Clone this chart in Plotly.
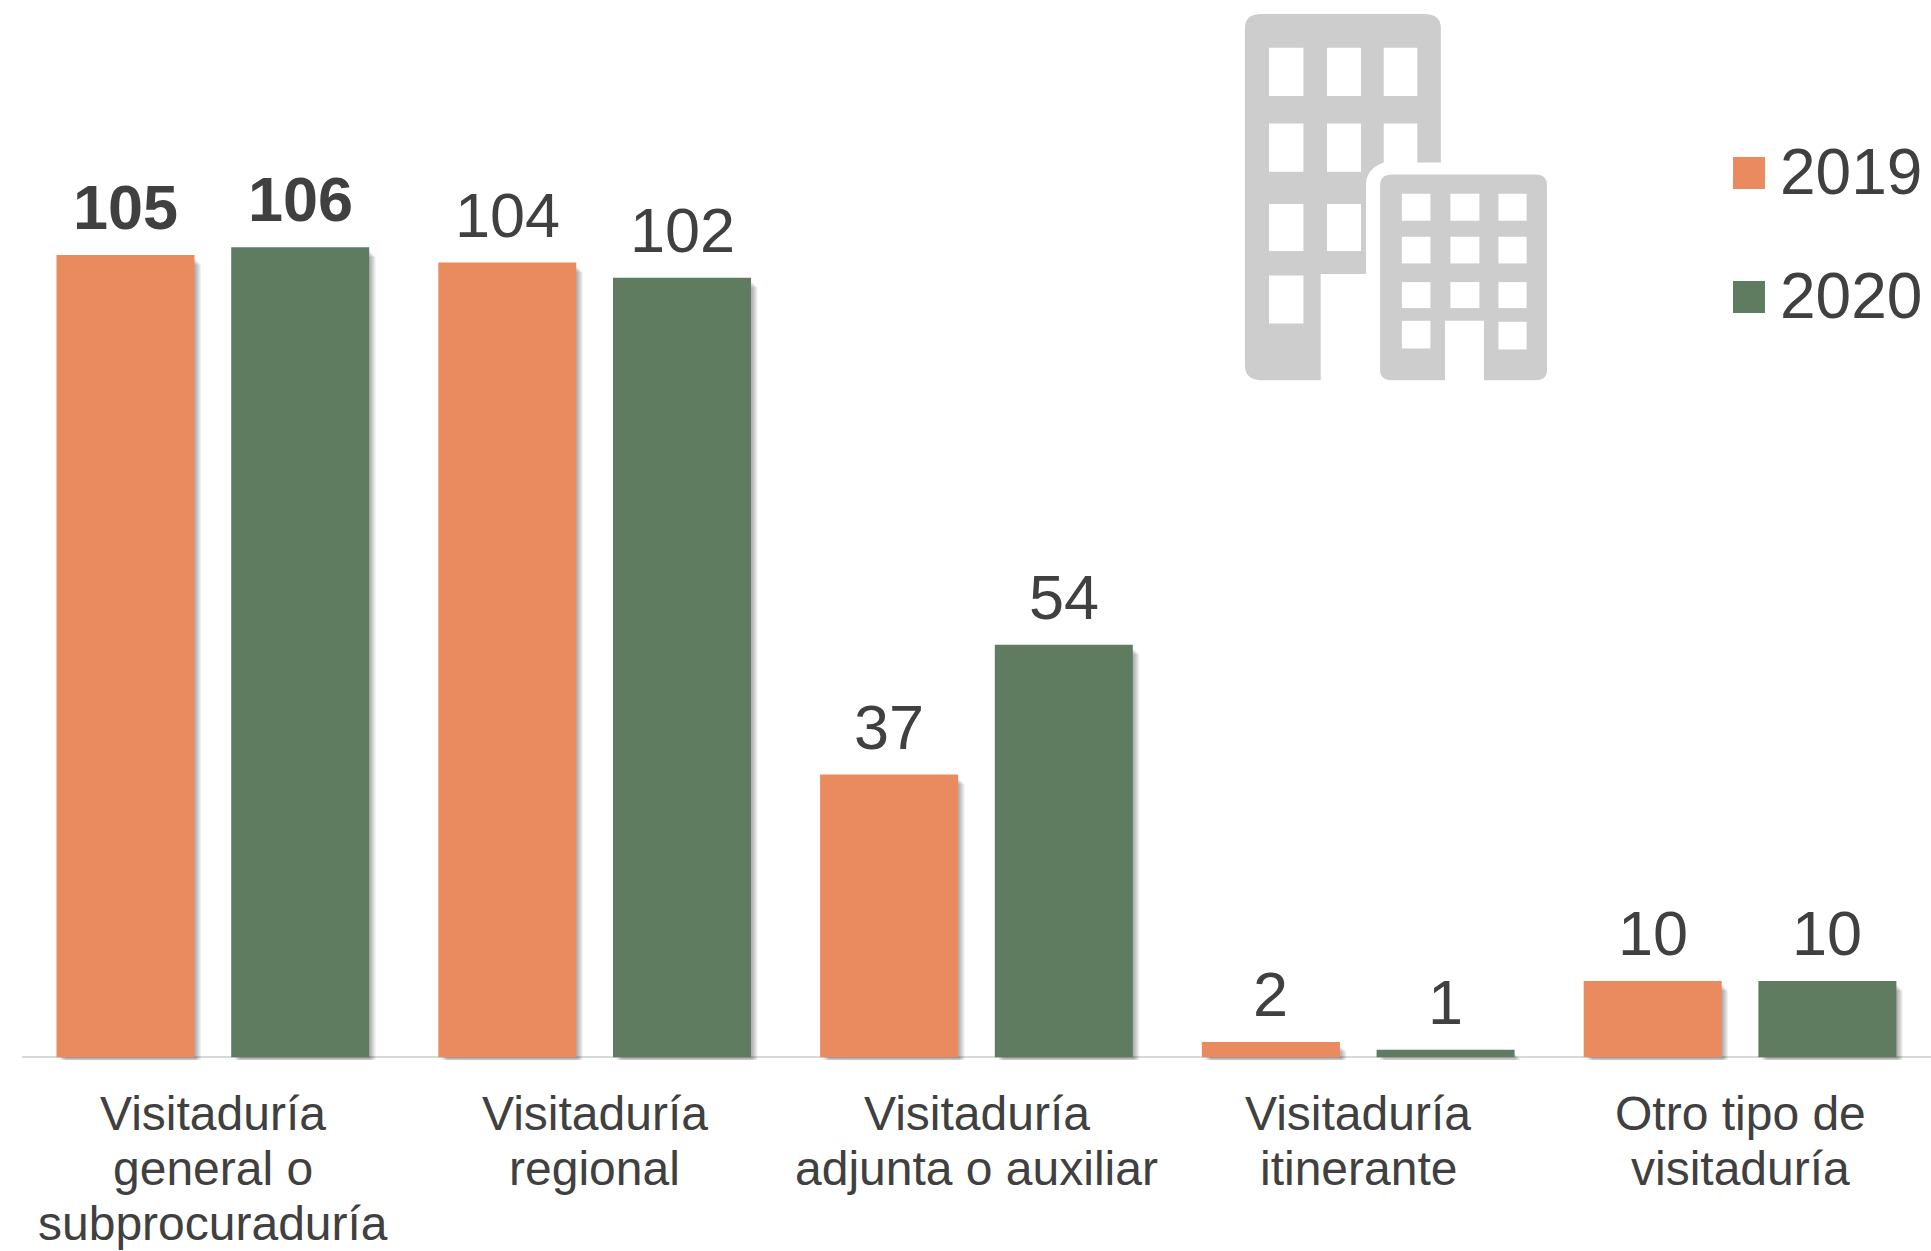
import plotly.graph_objects as go

category_lines = [
    ["Visitaduría", "general o", "subprocuraduría"],
    ["Visitaduría", "regional"],
    ["Visitaduría", "adjunta o auxiliar"],
    ["Visitaduría", "itinerante"],
    ["Otro tipo de", "visitaduría"],
]
series_names = ["2019", "2020"]
values_2019 = [105, 104, 37, 2, 10]
values_2020 = [106, 102, 54, 1, 10]
bold_positions = [0]

W, H = 1931, 1251
L, T, BASE = 22, 0, 1057
PX_PER_UNIT = 7.64
Y_MIN = -1.0
PLOT_BOTTOM = BASE - Y_MIN * PX_PER_UNIT
Y_MAX = BASE / PX_PER_UNIT
PX_PER_CAT = (W - L) / 5

ORANGE, GREEN, TEXT, GRAY = "#EA8A5F", "#5F7C60", "#404040", "#CDCDCD"
FONT = "Liberation Sans"
idx = list(range(5))

fig = go.Figure()
BAR_W = 138 / PX_PER_CAT
OFFS = [-156.4 / PX_PER_CAT, 18.3 / PX_PER_CAT]
series = [values_2019, values_2020]
colors = [ORANGE, GREEN]

# soft drop shadow layers
for s, vals in enumerate(series):
    for d in (6.5, 5.5, 4.5, 3.5, 2.5, 1.5):
        fig.add_bar(
            x=idx, y=[v - (3 + d) / PX_PER_UNIT + 0.3 for v in vals], base=-0.3,
            width=BAR_W - 2 / PX_PER_CAT, offset=OFFS[s] + (d + 2) / PX_PER_CAT,
            marker=dict(color="rgba(0,0,0,0.055)", line=dict(width=0)),
            showlegend=False, hoverinfo="skip",
        )
for s, vals in enumerate(series):
    fig.add_bar(
        x=idx, y=vals, name=series_names[s], width=BAR_W, offset=OFFS[s],
        marker=dict(color=colors[s], line=dict(width=0)), showlegend=False,
    )

ann = []
# value labels
for s, vals in enumerate(series):
    for i, v in enumerate(vals):
        txt = f"<b>{v}</b>" if i in bold_positions else str(v)
        ann.append(dict(
            x=i + OFFS[s] + BAR_W / 2, y=v, xref="x", yref="y", text=txt, showarrow=False,
            xanchor="center", yanchor="bottom", yshift=11,
            font=dict(family=FONT, size=63, color=TEXT),
        ))
# category labels, one annotation per line for tight leading
def py(p):
    return (PLOT_BOTTOM - p) / (PLOT_BOTTOM - T)
def px(p):
    return (p - L) / (W - L)
for i, lines in enumerate(category_lines):
    for j, line in enumerate(lines):
        ann.append(dict(
            x=i, y=py(1113.5 + 55 * j), xref="x", yref="paper", text=line, showarrow=False,
            xanchor="center", yanchor="middle",
            font=dict(family=FONT, size=48, color=TEXT),
        ))

# legend
shapes = []
def rect(x0, y0, x1, y1, color):
    shapes.append(dict(type="rect", xref="paper", yref="paper", x0=px(x0), x1=px(x1),
                       y0=py(y1), y1=py(y0), fillcolor=color, line=dict(width=0), layer="above"))
for name, color, y0 in zip(series_names, colors, (157, 281)):
    rect(1733, y0, 1765, y0 + 32, color)
    ann.append(dict(x=px(1777.5), y=py(y0 + 15), xref="paper", yref="paper", text=name, showarrow=False,
                    xanchor="left", yanchor="middle",
                    font=dict(family=FONT, size=64, color=TEXT)))

# building icon (zoom-crop coordinates)
def zx(v):
    return 1220 + v / 2.205
def zy(v):
    return v / 3
def path(points):
    out = []
    for cmd, *c in points:
        if cmd == "Z":
            out.append("Z")
        else:
            coords = " ".join(f"{px(zx(c[k])):.5f},{py(zy(c[k + 1])):.5f}" for k in range(0, len(c), 2))
            out.append(cmd + " " + coords)
    return " ".join(out)
def add_path(points, color):
    shapes.append(dict(type="path", xref="paper", yref="paper", path=path(points),
                       fillcolor=color, line=dict(width=0), layer="above"))
def zrect(x0, y0, x1, y1, color="#FFFFFF"):
    rect(zx(x0), zy(y0), zx(x1), zy(y1), color)

add_path([("M", 90, 42), ("L", 450, 42), ("Q", 487, 42, 487, 85), ("L", 487, 487), ("L", 435, 487),
          ("L", 435, 370), ("L", 361, 370), ("L", 361, 487), ("Q", 322, 505, 322, 555), ("L", 322, 822),
          ("L", 222, 822), ("L", 222, 1140), ("L", 90, 1140), ("Q", 55, 1140, 55, 1095), ("L", 55, 85),
          ("Q", 55, 42, 90, 42), ("Z",)], GRAY)
for r0, r1, cols in ((143, 288, ((108, 184), (236, 311), (361, 435))),
                     (370, 515, ((108, 184), (236, 311))),
                     (612, 753, ((108, 184), (236, 311))),
                     (826, 970, ((108, 184),))):
    for c0, c1 in cols:
        zrect(c0, r0, c1, r1)
add_path([("M", 380, 523), ("L", 695, 523), ("Q", 721, 523, 721, 555), ("L", 721, 1110),
          ("Q", 721, 1140, 695, 1140), ("L", 582, 1140), ("L", 582, 962), ("L", 496, 962), ("L", 496, 1140),
          ("L", 380, 1140), ("Q", 353, 1140, 353, 1110), ("L", 353, 555), ("Q", 353, 523, 380, 523), ("Z",)], GRAY)
for r0, r1 in ((581, 662), (710, 790), (846, 924)):
    for c0, c1 in ((401, 464), (508, 572), (614, 676)):
        zrect(c0, r0, c1, r1)
zrect(401, 962, 464, 1045)
zrect(614, 965, 676, 1048)

fig.update_layout(
    width=W, height=H, barmode="overlay",
    margin=dict(l=L, r=0, t=T, b=H - PLOT_BOTTOM, pad=0),
    paper_bgcolor="white", plot_bgcolor="white",
    showlegend=False, annotations=ann, shapes=shapes,
    xaxis=dict(range=[-0.5, 4.5], showgrid=False, zeroline=False, showline=False,
               showticklabels=False, ticks=""),
    yaxis=dict(range=[Y_MIN, Y_MAX], showgrid=False, showticklabels=False, ticks="", showline=False,
               zeroline=True, zerolinecolor="#D9D9D9", zerolinewidth=2),
)

fig.write_html("out.html", config={"displayModeBar": False}, post_script=(
    "document.body.style.margin='0';document.documentElement.style.overflow='hidden';"
))
